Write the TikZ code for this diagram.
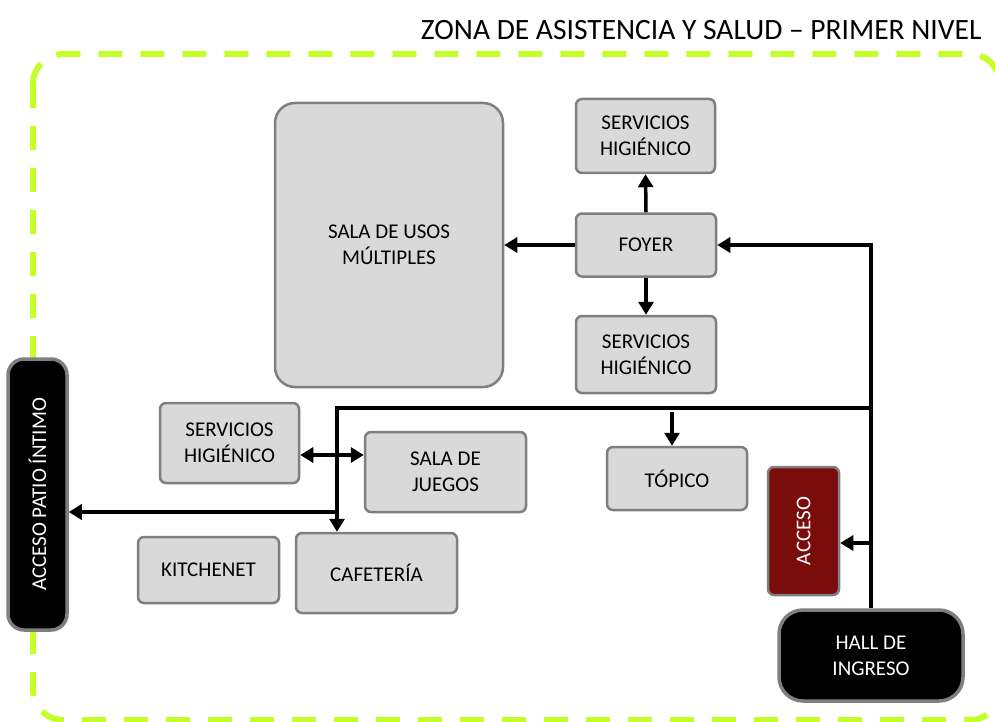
\documentclass[tikz,border=0pt]{standalone}
\usepackage{fontspec}
\setmainfont{Carlito}
\usetikzlibrary{arrows.meta}
\definecolor{zonegreen}{RGB}{196,255,42}
\definecolor{boxgray}{RGB}{217,217,217}
\definecolor{edgegray}{RGB}{127,127,127}
\definecolor{accred}{RGB}{123,12,12}
\tikzset{
  room/.style={draw=edgegray, line width=2.5pt, fill=boxgray, rounded corners=6pt, inner sep=0pt, align=center,
    font=\fontsize{21}{26}\selectfont, text=black},
  darkroom/.style={draw=edgegray, line width=3.5pt, fill=black, rounded corners=16pt, inner sep=0pt, align=center,
    font=\fontsize{21}{26}\selectfont, text=white},
  ln/.style={line width=3.5pt, draw=black},
  arr/.style={ln, -{Triangle[length=13pt,width=15pt]}},
  darr/.style={ln, {Triangle[length=13pt,width=15pt]}-{Triangle[length=13pt,width=15pt]}},
}
\begin{document}
\begin{tikzpicture}[x=1pt,y=-1pt]
\useasboundingbox (0,0) rectangle (995,722);
% zone border
\begin{scope}
\clip (0,0) rectangle (995,722);
\draw[zonegreen, line width=6pt, dash pattern=on 24pt off 18pt, rounded corners=30pt]
  (33,54) rectangle (1000,720);
\end{scope}
\node[anchor=base east, font=\fontsize{29.5}{34}\selectfont, text=black] (title) at (985,40)
  {ZONA DE ASISTENCIA Y SALUD – PRIMER NIVEL};
% rooms
\node[room, rounded corners=20pt, minimum width=228pt, minimum height=284pt] (sum) at (389,245)
  {SALA DE USOS\\MÚLTIPLES};
\node[room, minimum width=139pt, minimum height=74pt] (sh1) at (645.5,136) {SERVICIOS\\HIGIÉNICO};
\node[room, minimum width=140pt, minimum height=63pt] (foyer) at (646,245) {FOYER};
\node[room, minimum width=140pt, minimum height=77pt] (sh2) at (646,354.5) {SERVICIOS\\HIGIÉNICO};
\node[darkroom, minimum width=271pt, minimum height=59pt, rotate=90] (patio) at (37.5,494.5)
  {ACCESO PATIO ÍNTIMO};
\node[room, minimum width=139pt, minimum height=80pt] (sh3) at (229.5,443) {SERVICIOS\\HIGIÉNICO};
\node[room, minimum width=161pt, minimum height=80pt] (juegos) at (445.5,472) {SALA DE\\JUEGOS};
\node[room, minimum width=141pt, minimum height=66pt] (kitch) at (208.5,570) {KITCHENET};
\node[room, minimum width=161pt, minimum height=80pt] (cafe) at (376.5,573) {CAFETERÍA};
\node[room, minimum width=140pt, minimum height=63pt] (topico) at (677,478.5) {TÓPICO};
\node[room, fill=accred, text=white, minimum width=128pt, minimum height=71pt, rotate=90] (acceso) at (803.5,531)
  {ACCESO};
\node[darkroom, rounded corners=24pt, minimum width=184pt, minimum height=91pt] (hall) at (871,655.5)
  {HALL DE\\INGRESO};
% connectors
\draw[arr] (foyer.west) -- (foyer.west -| sum.east);
\draw[arr] (foyer.north) -- (sh1.south);
\draw[arr] (foyer.south) -- (sh2.north);
\draw[arr] (hall.north) |- (foyer.east);
\coordinate (j1) at (871,408);
\coordinate (j2) at (337,408);
\draw[arr] (j1) -- (j2) -- (j2 |- cafe.north);
\coordinate (t0) at (672,412);
\draw[arr] (t0) -- (t0 |- topico.north);
\coordinate (p0) at (337,512);
\draw[arr] (p0) -- (p0 -| patio.south);
\draw[darr] ([yshift=-12pt]sh3.east) -- ([yshift=-12pt]sh3.east -| juegos.west);
\coordinate (a0) at (871,543);
\draw[arr] (a0) -- (a0 -| acceso.south);
\end{tikzpicture}
\end{document}
